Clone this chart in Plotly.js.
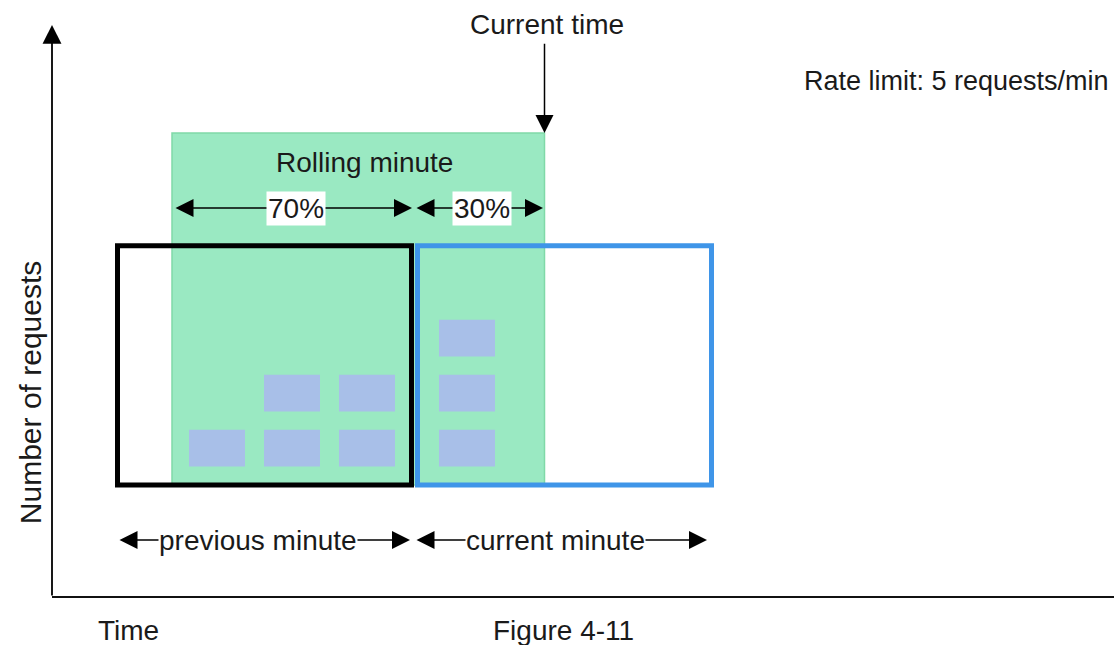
<!DOCTYPE html>
<html>
<head>
<meta charset="utf-8">
<script src="https://cdn.plot.ly/plotly-3.0.1.min.js"></script>
<style>html,body{margin:0;padding:0;background:#fff;}#chart{width:1114px;height:645px;}</style>
</head>
<body>
<div id="chart"></div>
<script>
// ---------------- data ----------------
const windowLabels = ['previous minute', 'current minute'];
const windowStartSec = [0, 60];
const windowEndSec = [60, 120];
const requestColumnSec = [20.5, 35.5, 50.5, 70.5];   // when the requests arrived
const requestCount = [1, 2, 2, 3];                    // requests stacked in each column
const rollingStartSec = 11.5;
const currentTimeSec = 86;
const rollingShareLabels = ['70%', '30%'];
const rateLimitPerMin = 5;
const axisTitles = ['Time', 'Number of requests'];
const figureCaption = 'Figure 4-11';

// ---------------- styles ----------------
const FONT = 'Liberation Sans, Arial, sans-serif';
const FS = 28;
const windowColors = ['#000000', '#3f95e8'];
const greenFill = '#9ae9c2';
const greenEdge = '#80d9a8';
const blockColor = '#a8bfe8';
const boxTop = 4.35, rollingTop = 6.4;
const levelGap = 1, levelOffset = 0.335, blockHeight = 0.67, blockWidth = 11.2;

// build request blocks
const bx = [], bbase = [], by = [];
requestColumnSec.forEach((t, i) => {
  for (let k = 0; k < requestCount[i]; k++) {
    bx.push(t); bbase.push(levelOffset + k * levelGap); by.push(blockHeight);
  }
});

const traces = [{
  type: 'bar', x: bx, y: by, base: bbase, width: bx.map(() => blockWidth),
  marker: {color: blockColor, line: {width: 0}}, hoverinfo: 'skip', showlegend: false
}];

const shapes = [];
// rolling minute window
shapes.push({type: 'rect', xref: 'x', yref: 'y', layer: 'below',
  x0: rollingStartSec, x1: currentTimeSec, y0: 0, y1: rollingTop,
  fillcolor: greenFill, line: {color: greenEdge, width: 1.5}});
// minute windows
windowStartSec.forEach((s, i) => {
  shapes.push({type: 'rect', xref: 'x', yref: 'y', layer: 'above',
    x0: s + 0.6, x1: windowEndSec[i] - 0.6, y0: 0, y1: boxTop,
    line: {color: windowColors[i], width: 5}});
});
// x axis line
const axisX = -12.5, axisY = -2.036;
shapes.push({type: 'line', xref: 'x', yref: 'y', x0: axisX, x1: 205, y0: axisY, y1: axisY,
  line: {color: '#111', width: 1.8}});

const ann = [];
function arrow(x0, y0, x1, y1, both, w, sz) {
  ann.push({xref: 'x', yref: 'y', axref: 'x', ayref: 'y', x: x1, y: y1, ax: x0, ay: y0,
    text: '', showarrow: true, arrowhead: 2, startarrowhead: 2,
    arrowside: both ? 'end+start' : 'end', arrowsize: sz || 2.4, startarrowsize: sz || 2.4,
    arrowwidth: w || 1.5, arrowcolor: '#000', standoff: 0, startstandoff: 0});
}
function label(x, y, text, opts) {
  ann.push(Object.assign({xref: 'x', yref: 'y', x: x, y: y, text: text, showarrow: false,
    font: {family: FONT, size: FS, color: '#1a1a1a'}}, opts || {}));
}

// y axis arrow
arrow(axisX, axisY, axisX, 8.364, false, 1.8, 2.1);
// current time arrow
arrow(currentTimeSec, 8.05, currentTimeSec, rollingTop, false);
label(currentTimeSec + 0.5, 8.364, 'Current time');
label(199.3, 7.345, 'Rate limit: ' + rateLimitPerMin + ' requests/min',
  {xanchor: 'right', font: {family: FONT, size: 27, color: '#1a1a1a'}});
label((rollingStartSec + currentTimeSec) / 2 + 1.3, 5.855, 'Rolling minute');

// 70% / 30% arrows
const shareY = 5.036;
const shareSeg = [[rollingStartSec + 0.4, windowEndSec[0] - 0.5], [windowStartSec[1] + 0.1, currentTimeSec - 0.3]];
shareSeg.forEach((seg, i) => {
  arrow(seg[0], shareY, seg[1], shareY, true);
  label((seg[0] + seg[1]) / 2 + 0.5, shareY, rollingShareLabels[i], {bgcolor: '#ffffff', borderpad: 1});
});

// previous / current minute arrows
const spanY = -1.0;
windowStartSec.forEach((s, i) => {
  const a = s + 0.7 - i * 0.6, b = windowEndSec[i] - 0.9 - i * 0.6;
  arrow(a, spanY, b, spanY, true);
  label((a + b) / 2 - 1.2, spanY, windowLabels[i], {bgcolor: '#ffffff', borderpad: 0});
});

label(-3.8, -2.64, axisTitles[0], {xanchor: 'left'});
label(89.8, -2.64, figureCaption);
label(-16.9, 1.67, axisTitles[1], {textangle: -90, font: {family: FONT, size: 30, color: '#1a1a1a'}});

const layout = {
  width: 1114, height: 645, margin: {l: 0, r: 0, t: 0, b: 0},
  paper_bgcolor: '#fff', plot_bgcolor: '#fff', barmode: 'overlay', showlegend: false,
  xaxis: {range: [-22.9, 199.9], visible: false, fixedrange: true},
  yaxis: {range: [-2.909, 8.818], visible: false, fixedrange: true},
  shapes: shapes, annotations: ann, font: {family: FONT}
};
Plotly.newPlot('chart', traces, layout, {displayModeBar: false, staticPlot: true});
</script>
</body>
</html>
